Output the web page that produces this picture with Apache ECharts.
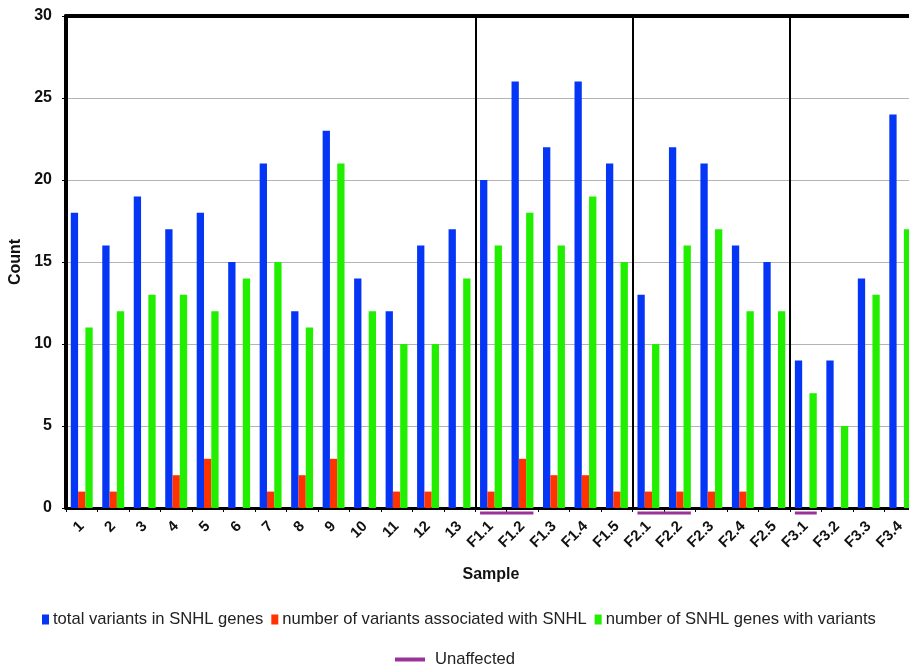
<!DOCTYPE html>
<html>
<head>
<meta charset="utf-8">
<script src="https://cdn.jsdelivr.net/npm/echarts@6/dist/echarts.min.js"></script>
<style>html,body{margin:0;padding:0;background:#fff;}#c{width:909px;height:669px;}</style>
</head>
<body>
<div id="c"></div>
<script>
const categories = ['1','2','3','4','5','6','7','8','9','10','11','12','13',
  'F1.1','F1.2','F1.3','F1.4','F1.5','F2.1','F2.2','F2.3','F2.4','F2.5',
  'F3.1','F3.2','F3.3','F3.4'];
const totalVariants = [18,16,19,17,18,15,21,12,23,14,12,16,17,20,26,22,26,21,13,22,21,16,15,9,9,14,24];
const assocVariants = [1,1,0,2,3,0,1,2,3,0,1,1,0,1,3,2,2,1,1,1,1,1,0,0,0,0,0];
const genesWithVariants = [11,12,13,13,12,14,15,11,21,12,10,10,14,16,18,16,19,15,10,16,17,12,12,7,5,13,17];
// unaffected groups: [first category index, last category index]
const unaffected = [[13,14],[18,19],[23,23]];
// family boundaries (category index where a new family starts)
const familyStarts = [13,18,23];
const yTicks = {min:0, max:30, interval:5};

const chart = echarts.init(document.getElementById('c'));
const FONT = 'Liberation Sans, Arial, sans-serif';
const BW = 7.3;
chart.setOption({
  animation:false,
  grid:{left:66, top:16, width:850, height:492, outerBoundsMode:'none'},
  legend:[{
    data:['total variants in SNHL genes','number of variants associated with SNHL','number of SNHL genes with variants'],
    left:42, top:611, padding:0, icon:'rect', itemWidth:7, itemHeight:10, itemGap:8,
    textStyle:{fontFamily:FONT, fontSize:16.6, color:'#222', padding:[0,0,0,-1]}
  },{
    data:['Unaffected'], left:395, top:651, padding:0, icon:'rect', itemWidth:30, itemHeight:4,
    textStyle:{fontFamily:FONT, fontSize:16.6, color:'#222', padding:[0,0,0,5]}
  }],
  xAxis:[{
    type:'category', data:categories, name:'Sample', nameLocation:'middle', nameGap:59,
    nameTextStyle:{fontFamily:FONT, fontWeight:'bold', fontSize:16, color:'#111'},
    axisLine:{lineStyle:{color:'#000', width:3}},
    axisTick:{show:true, length:4, lineStyle:{color:'#000', width:1}},
    axisLabel:{rotate:45, fontFamily:FONT, fontWeight:'bold', fontSize:15, color:'#111', margin:16, interval:0},
    splitLine:{show:true, interval:function(i){return familyStarts.indexOf(i)>=0;}, lineStyle:{color:'#000', width:2}}
  },{
    type:'category', data:categories, position:'top', gridIndex:0,
    axisLine:{lineStyle:{color:'#000', width:4}}, axisTick:{show:false}, axisLabel:{show:false}
  }],
  yAxis:{
    type:'value', min:yTicks.min, max:yTicks.max, interval:yTicks.interval,
    name:'Count', nameLocation:'middle', nameGap:39, nameRotate:90,
    nameTextStyle:{fontFamily:FONT, fontWeight:'bold', fontSize:16, color:'#111'},
    axisLine:{show:true, lineStyle:{color:'#000', width:4}},
    axisTick:{show:true, length:4, lineStyle:{color:'#000'}},
    axisLabel:{fontFamily:FONT, fontWeight:'bold', fontSize:16, color:'#111', margin:14},
    splitLine:{lineStyle:{color:'#b4b4b4', width:1}}
  },
  series:[
    {name:'total variants in SNHL genes', type:'bar', data:totalVariants, barWidth:BW, barGap:'0%', itemStyle:{color:'#0536f5'}},
    {name:'number of variants associated with SNHL', type:'bar', data:assocVariants, barWidth:BW, barGap:'0%', itemStyle:{color:'#ff3300'}},
    {name:'number of SNHL genes with variants', type:'bar', data:genesWithVariants, barWidth:BW, barGap:'0%', itemStyle:{color:'#22ee00'}},
    {name:'Unaffected', type:'custom', itemStyle:{color:'#993399'}, clip:false, z:10,
      data:unaffected,
      renderItem:function(params, api){
        const a = api.coord([api.value(0), 0]);
        const b = api.coord([api.value(1), 0]);
        const half = BW*1.5;
        return {type:'line', shape:{x1:a[0]-half, y1:a[1]+5, x2:b[0]+half, y2:b[1]+5},
          style:{stroke:'#993399', lineWidth:3}};
      }
    }
  ]
});
</script>
</body>
</html>
